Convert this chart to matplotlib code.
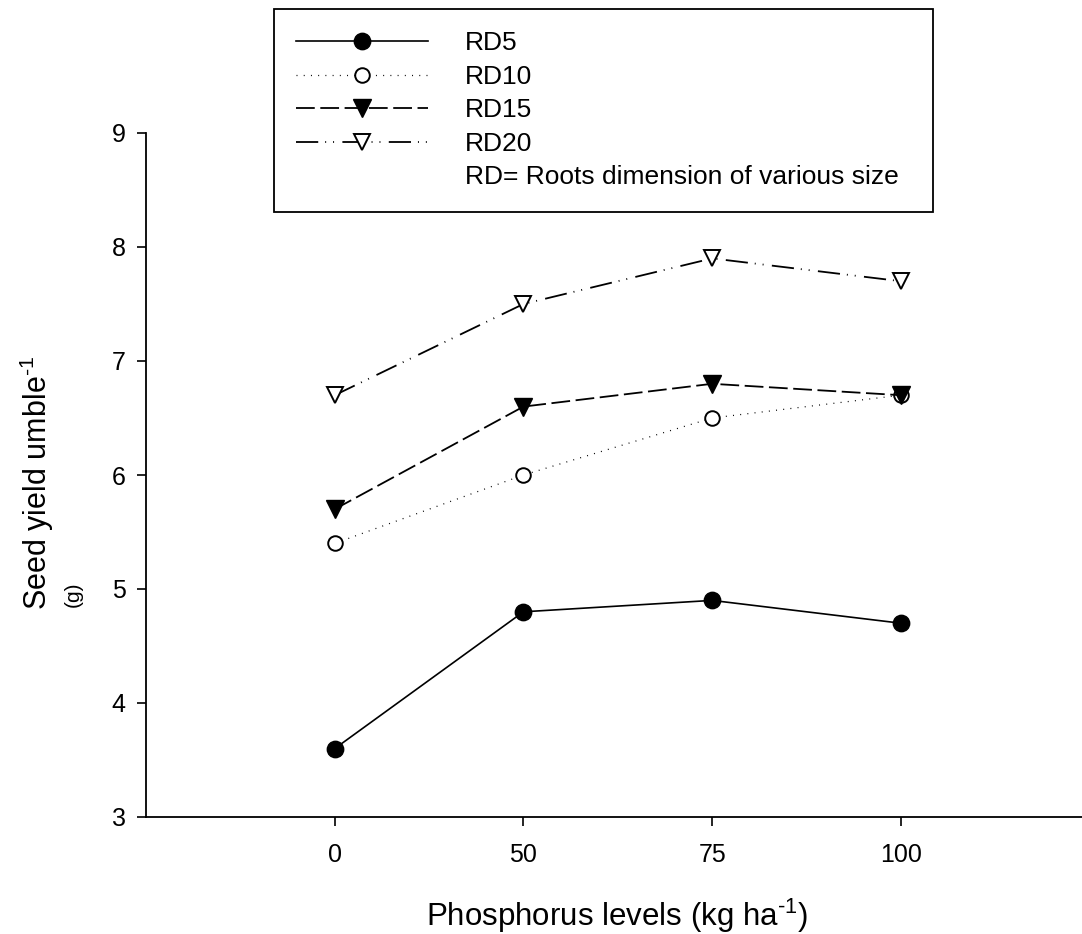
import matplotlib
matplotlib.use("Agg")
import matplotlib.pyplot as plt
from matplotlib.lines import Line2D

plt.rcParams['font.family'] = ['Liberation Sans', 'DejaVu Sans']
plt.rcParams['mathtext.fontset'] = 'custom'
plt.rcParams['mathtext.rm'] = 'Liberation Sans'
plt.rcParams['mathtext.default'] = 'regular'
plt.rcParams['lines.scale_dashes'] = False

# data
levels = ['0', '50', '75', '100']
rd5 = [3.6, 4.8, 4.9, 4.7]
rd10 = [5.4, 6.0, 6.5, 6.7]
rd15 = [5.7, 6.6, 6.8, 6.7]
rd20 = [6.7, 7.5, 7.9, 7.7]
series_names = ['RD5', 'RD10', 'RD15', 'RD20']
note = 'RD= Roots dimension of various size'

W, H = 1082, 934
fig = plt.figure(figsize=(W / 100, H / 100), dpi=100)
ax = fig.add_axes([146 / W, 1 - 817 / H, (W - 146) / W, (817 - 133) / H])

x = range(len(levels))
l5, = ax.plot(x, rd5, color='black', lw=1.2, ls='-', marker='o', ms=11.8,
              mfc='black', mec='black')
l10, = ax.plot(x, rd10, color='black', lw=0.9, ls=(0, (0.7, 4.5)), marker='o', ms=10.5,
               mfc='white', mec='black', mew=1.4)
l15, = ax.plot(x, rd15, color='black', lw=1.3, ls=(0, (13.5, 4)), marker='v', ms=13,
               mfc='black', mec='black')
l20, = ax.plot(x, rd20, color='black', lw=1.3, ls=(0, (16, 5, 0.7, 5, 0.7, 6)), marker='v', ms=12,
               mfc='white', mec='black', mew=1.4)

ax.set_xlim(-1, 3.96)
ax.set_ylim(3, 9)
ax.set_xticks(list(x))
ax.set_xticklabels(levels)
ax.set_yticks(range(3, 10))

for side in ['top', 'right']:
    ax.spines[side].set_visible(False)
for side in ['left', 'bottom']:
    ax.spines[side].set_linewidth(1.3)
ax.tick_params(direction='out', length=6.5, width=1.2, labelsize=18)
ax.tick_params(axis='x', pad=12)
ax.tick_params(axis='y', pad=8)

# axis titles
fig.text(617 / W, 1 - 916 / H, 'Phosphorus levels (kg ha$^{\\text{-}1}$)', fontsize=22.5,
         ha='center', va='center')
fig.text(37 / W, 1 - 610 / H, 'Seed yield umble$^{\\text{-}1}$', fontsize=22, rotation=90,
         ha='center', va='bottom')
fig.text(73 / W, 1 - 607 / H, '(g)', fontsize=15, rotation=90, ha='center', va='bottom')

blank = Line2D([], [], color='none')
leg = fig.legend([l5, l10, l15, l20, blank], series_names + [note],
                 loc='upper left', bbox_to_anchor=(274 / W, 1 - 9 / H, (933 - 274) / W, 0),
                 mode='expand', borderaxespad=0, fontsize=19, frameon=True, fancybox=False,
                 edgecolor='black', framealpha=1, borderpad=0.85, labelspacing=0.36,
                 handlelength=5.0, handletextpad=1.4, numpoints=1)
leg.get_frame().set_linewidth(1.3)

fig.savefig('out.png', dpi=100)
